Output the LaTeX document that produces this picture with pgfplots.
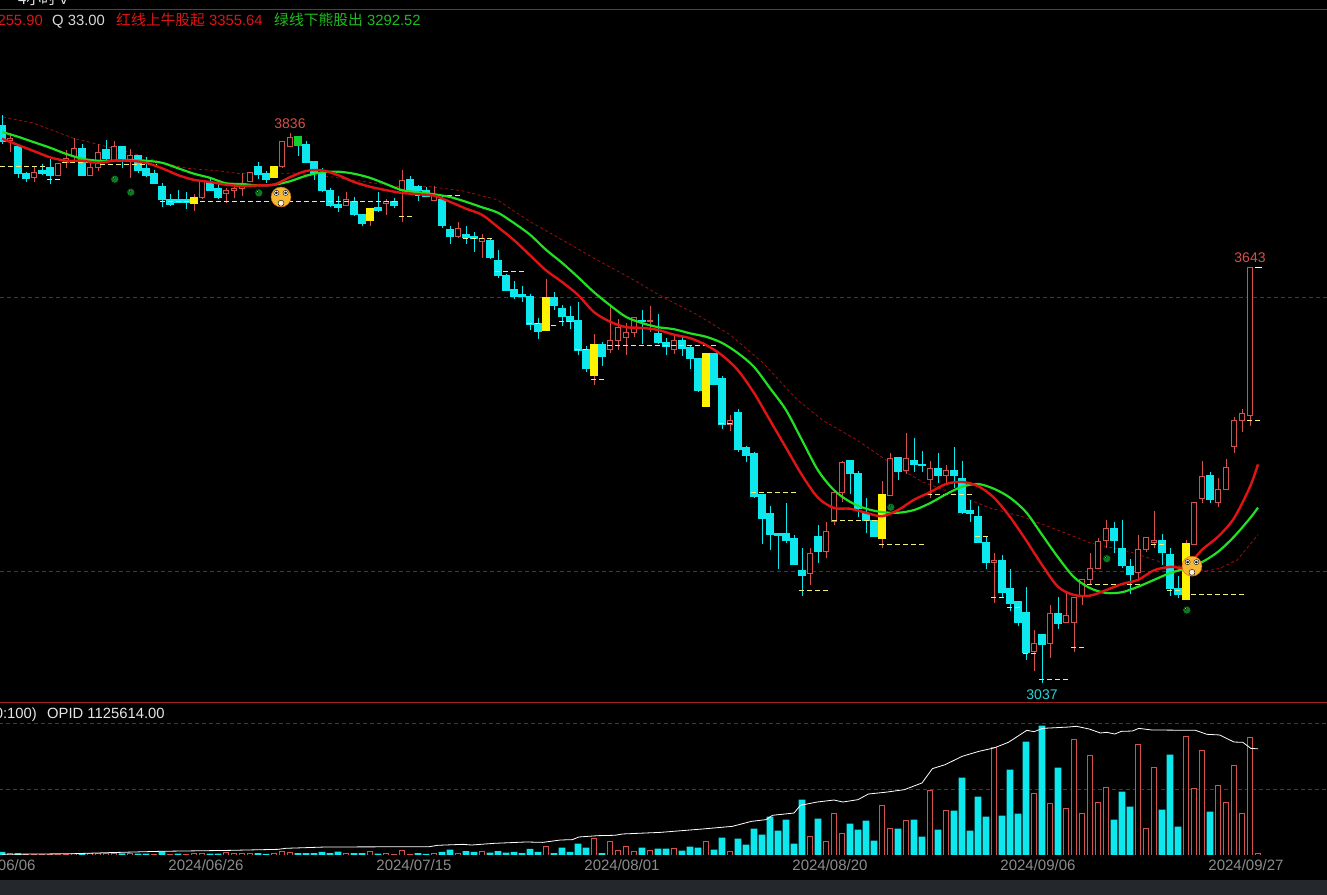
\documentclass[border=0pt]{standalone}
\usepackage{fontspec}
\usepackage{pgfplots}
\usepackage{pgfplotstable}
\pgfplotsset{compat=1.18}
\setmainfont{Liberation Sans}
\newfontfamily\cjk{Noto Sans CJK SC}

\definecolor{upred}{HTML}{D4504C}
\definecolor{downcy}{HTML}{0CE8EE}
\definecolor{dimred}{HTML}{8C1C1C}
\definecolor{framered}{HTML}{A02020}
\definecolor{mared}{HTML}{E01414}
\definecolor{magreen}{HTML}{22E022}
\definecolor{supcol}{HTML}{F2EE7C}
\definecolor{dategray}{HTML}{8C8C8C}
\definecolor{stripgray}{HTML}{24272B}
\definecolor{brightgreen}{HTML}{10D030}
\definecolor{dotgreen}{HTML}{0A7A1E}
\definecolor{facegold}{HTML}{F5B830}

% candles: k, body top, body bottom, low, high (price)
\pgfplotstableread{
k top bot lo hi
0 3851 3827 3824 3866
2 3820 3780 3774 3820
3 3780 3773 3768 3783
5 3784 3781 3778 3794
6 3789 3777 3765 3801
10 3817 3777 3777 3823
13 3815 3802 3801 3829
15 3820 3802 3788 3820
17 3807 3785 3781 3807
18 3788 3777 3776 3805
19 3780 3766 3765 3786
20 3762 3742 3732 3766
21 3743 3735 3733 3750
22 3743 3738 3737 3756
23 3743 3738 3729 3753
26 3767 3756 3755 3773
27 3759 3745 3744 3765
32 3791 3779 3773 3797
33 3781 3771 3767 3784
38 3823 3797 3795 3828
39 3798 3780 3771 3798
40 3781 3755 3753 3789
41 3756 3733 3732 3759
42 3735 3731 3724 3748
44 3740 3720 3718 3746
45 3721 3707 3704 3721
47 3730 3727 3724 3753
49 3740 3734 3730 3744
51 3772 3756 3754 3776
52 3761 3755 3740 3764
53 3755 3747 3746 3761
55 3743 3704 3701 3747
56 3698 3688 3677 3703
58 3692 3687 3677 3704
59 3689 3685 3666 3695
61 3683 3658 3656 3686
62 3653 3631 3628 3669
63 3632 3609 3609 3633
64 3611 3601 3597 3623
65 3603 3601 3592 3616
66 3601 3560 3552 3605
67 3562 3549 3539 3570
69 3600 3587 3581 3607
70 3583 3571 3558 3589
71 3572 3564 3553 3587
72 3566 3522 3515 3592
73 3524 3495 3490 3528
75 3531 3513 3500 3534
80 3566 3564 3531 3581
82 3547 3533 3532 3575
83 3534 3528 3515 3540
85 3537 3525 3514 3545
86 3526 3510 3495 3530
87 3510 3463 3462 3510
89 3518 3473 3471 3519
90 3481 3414 3407 3485
92 3431 3378 3374 3437
93 3381 3369 3359 3382
94 3371 3309 3307 3374
95 3311 3276 3239 3311
96 3284 3254 3230 3295
97 3255 3252 3203 3256
98 3255 3245 3241 3299
99 3247 3210 3210 3252
100 3201 3194 3164 3233
102 3250 3228 3211 3267
106 3361 3342 3312 3361
107 3343 3291 3279 3346
108 3284 3274 3256 3306
109 3274 3251 3251 3274
112 3365 3345 3333 3367
114 3361 3355 3345 3394
115 3356 3354 3345 3375
117 3350 3339 3329 3373
119 3347 3339 3321 3381
120 3335 3286 3283 3361
121 3288 3284 3272 3304
122 3280 3241 3241 3295
123 3242 3212 3203 3250
125 3216 3169 3162 3223
126 3175 3153 3141 3203
127 3155 3125 3119 3155
128 3140 3081 3070 3176
130 3108 3092 3037 3108
132 3138 3124 3115 3162
139 3262 3244 3227 3271
140 3233 3208 3204 3274
141 3206 3195 3167 3218
145 3245 3227 3209 3254
146 3224 3174 3164 3233
147 3175 3165 3161 3193
151 3339 3305 3300 3344
}\cyancandles

\pgfplotstableread{
k top bot lo hi
1 3832 3829 3812 3840
4 3782 3775 3768 3790
7 3795 3777 3777 3795
8 3802 3797 3789 3815
9 3817 3805 3800 3832
11 3789 3778 3777 3800
12 3811 3789 3784 3823
14 3820 3800 3800 3828
16 3807 3800 3774 3816
25 3769 3745 3743 3771
28 3755 3751 3737 3759
29 3759 3755 3745 3767
30 3762 3758 3748 3781
31 3782 3768 3768 3782
35 3827 3790 3789 3827
36 3833 3820 3820 3839
43 3743 3733 3733 3753
48 3740 3737 3720 3743
50 3770 3756 3710 3785
54 3748 3741 3740 3762
57 3700 3688 3687 3709
60 3686 3681 3657 3692
76 3536 3523 3519 3585
77 3556 3536 3522 3568
78 3548 3541 3515 3562
79 3570 3548 3541 3570
81 3566 3564 3549 3587
84 3536 3524 3517 3546
91 3419 3414 3405 3428
101 3226 3196 3180 3233
103 3258 3228 3219 3272
104 3315 3272 3267 3316
105 3359 3314 3301 3361
111 3364 3310 3310 3373
113 3364 3346 3342 3402
116 3350 3334 3306 3361
118 3347 3339 3328 3355
124 3215 3212 3154 3227
129 3094 3082 3054 3114
131 3138 3094 3073 3150
133 3135 3125 3125 3171
134 3162 3125 3082 3162
135 3188 3163 3150 3188
136 3204 3187 3180 3226
137 3243 3204 3204 3248
138 3262 3245 3233 3275
142 3232 3198 3187 3253
143 3249 3232 3228 3249
144 3244 3242 3233 3288
149 3300 3239 3238 3301
150 3338 3306 3300 3361
152 3319 3300 3294 3336
153 3351 3319 3319 3364
154 3420 3382 3373 3425
155 3430 3420 3403 3437
156 3643 3427 3412 3643
}\redcandles

\pgfplotstableread{
k top bot lo hi
24 3746 3737 3726 3750
34 3791 3774 3774 3791
46 3729 3712 3704 3729
68 3600 3551 3551 3627
74 3531 3485 3471 3546
88 3517 3440 3440 3519
110 3312 3248 3233 3331
148 3240 3158 3158 3245
}\yellowcandles

\pgfplotstableread{
k top bot lo hi
37 3834 3821 3806 3834
}\greencandles

% volume (thousand lots)
\pgfplotstableread{
k v
0 32
2 21
10 18
15 18
17 14
18 14
20 39
22 14
26 14
27 14
32 21
33 11
37 21
38 21
39 21
40 32
41 21
42 35
44 21
45 21
47 14
52 21
53 11
55 32
56 57
58 42
59 32
61 25
62 42
63 25
64 32
65 21
66 64
67 32
69 21
70 78
71 32
72 120
73 78
75 21
80 78
82 67
83 67
85 46
86 88
87 78
89 57
90 184
92 173
93 110
94 279
95 216
96 407
97 258
98 375
99 120
100 587
102 385
106 332
107 269
108 364
109 152
112 279
114 375
115 194
117 269
119 470
120 820
121 258
122 619
123 407
125 417
126 905
127 438
128 1202
130 1372
132 926
139 375
140 672
141 513
145 481
146 1064
147 300
151 460
}\cyanvol

\pgfplotstableread{
k v
1 11
3 7
4 7
5 7
6 7
7 7
8 7
9 18
11 14
12 14
13 11
14 21
16 21
19 7
21 4
23 4
24 11
25 11
28 25
29 14
30 21
31 14
34 21
35 32
36 25
43 14
46 32
48 14
49 4
50 53
51 4
54 21
57 14
60 42
68 95
74 170
76 138
77 53
78 85
79 32
81 53
84 64
88 148
91 42
101 191
103 138
104 435
105 223
110 520
111 276
113 361
116 689
118 477
124 1138
129 647
131 551
133 498
134 1220
135 445
136 1050
137 562
138 711
142 1177
143 286
144 923
148 1262
149 700
150 1103
152 742
153 562
154 944
155 445
156 1241
157 21
}\redvol

% one wick and one body per table row: table, half width, wick, box draw, box fill
\newcommand{\candles}[5]{%
  \pgfplotstablegetrowsof{#1}%
  \pgfmathtruncatemacro\lastrow{\pgfplotsretval-1}%
  \pgfplotsforeachungrouped \r in {0,...,\lastrow}{%
    \pgfplotstablegetelem{\r}{k}\of{#1}\let\ck\pgfplotsretval
    \pgfplotstablegetelem{\r}{top}\of{#1}\let\ctop\pgfplotsretval
    \pgfplotstablegetelem{\r}{bot}\of{#1}\let\cbot\pgfplotsretval
    \pgfplotstablegetelem{\r}{lo}\of{#1}\let\clo\pgfplotsretval
    \pgfplotstablegetelem{\r}{hi}\of{#1}\let\chigh\pgfplotsretval
    \pgfmathsetmacro\xl{\ck-#2}%
    \pgfmathsetmacro\xr{\ck+#2}%
    \edef\tmp{\noexpand\addplot[#3, line width=1bp] coordinates {(\ck,\chigh) (\ck,\ctop) (nan,nan) (\ck,\cbot) (\ck,\clo)};
      \noexpand\addplot[draw=#4, fill=#5, line width=1bp] coordinates {(\xl,\cbot) (\xr,\cbot) (\xr,\ctop) (\xl,\ctop)} -- cycle;}%
    \tmp
  }%
}

\tikzset{readout/.style={inner sep=0pt, font=\fontsize{14.8bp}{17bp}\selectfont}}

\begin{document}
\begin{tikzpicture}
\useasboundingbox (0bp,0bp) rectangle (1327bp,895bp);
\fill[black] (0bp,0bp) rectangle (1327bp,895bp);
\fill[stripgray] (0bp,0bp) rectangle (1327bp,15bp);
\draw[framered, line width=1bp] (0bp,885bp) -- (1327bp,885bp);
\draw[framered, line width=1bp] (0bp,192bp) -- (1327bp,192bp);

\begin{axis}[
    at={(0bp,193bp)}, anchor=south west,
    scale only axis, width=1327bp, height=691bp,
    xmin=-0.25, xmax=165.625,
    ymin=3008.74, ymax=4017.6,
    hide axis,
    unbounded coords=jump,
]
% round levels
\addplot[dimred, line width=.8bp, dash pattern=on 4bp off 3bp] coordinates {(-0.25,3600) (165.625,3600)};
\addplot[dimred, line width=.8bp, dash pattern=on 4bp off 3bp] coordinates {(-0.25,3200) (165.625,3200)};
% long average
\addplot[mared!70!black, line width=.8bp, dash pattern=on 3bp off 2.5bp] coordinates {
(0.1,3863) (3.9,3854) (8.9,3832) (16.4,3810) (19.75,3797) (23.1,3788) (27.25,3784) (29.75,3780)
(36.4,3781) (41.4,3775) (49.75,3761) (53.5,3761) (57.6,3755) (61.9,3742) (66,3710) (70.1,3683)
(74.4,3654) (78.5,3628) (82.6,3600) (86.9,3574) (91,3545) (95.1,3504) (99.4,3450) (102.6,3420)
(106.9,3391) (111,3358) (115.1,3330) (119.4,3311) (123.5,3292) (127.6,3279) (132.6,3257) (136,3241)
(141,3228) (145.1,3212) (150.6,3200) (152.25,3204) (154.4,3216) (157,3253)};

\candles{\cyancandles}{.39}{downcy}{downcy}{downcy}
\candles{\redcandles}{.36}{upred}{upred}{black}
\candles{\yellowcandles}{.39}{upred}{yellow}{yellow}
\candles{\greencandles}{.39}{downcy}{brightgreen}{brightgreen}

% yellow support dashes
\addplot[supcol, line width=.9bp, dash pattern=on 5bp off 3bp] coordinates {
(-0.25,3790) (5.6,3790) (nan,nan) (5.6,3772) (7.5,3772) (nan,nan) (7.5,3797) (12.25,3797) (nan,nan)
(12.25,3794) (19.4,3794) (nan,nan) (19.75,3740) (49.4,3740) (nan,nan) (49.6,3718) (51.5,3718) (nan,nan)
(51.6,3749) (57.5,3749) (nan,nan) (57.6,3686) (61.4,3686) (nan,nan) (61.6,3637) (65.5,3637) (nan,nan)
(65.6,3561) (67.5,3561) (nan,nan) (68.6,3559) (69.5,3559) (nan,nan) (69.6,3565) (71.5,3565) (nan,nan)
(71.6,3523) (73.5,3523) (nan,nan) (73.6,3479) (75.5,3479) (nan,nan) (75.6,3529) (89.5,3529) (nan,nan)
(89.6,3416) (91.6,3416) (nan,nan) (93.6,3315) (99.5,3315) (nan,nan) (99.6,3172) (103.5,3172) (nan,nan)
(103.75,3274) (109.5,3274) (nan,nan) (109.6,3239) (115.5,3239) (nan,nan) (115.6,3312) (121.4,3312) (nan,nan)
(121.6,3250) (123.4,3250) (nan,nan) (123.6,3162) (125.5,3162) (nan,nan) (125.6,3147) (127.5,3147) (nan,nan)
(127.6,3079) (129.5,3079) (nan,nan) (129.6,3042) (133.5,3042) (nan,nan) (133.6,3089) (135.5,3089) (nan,nan)
(135.6,3181) (142.5,3181) (nan,nan) (143.6,3239) (145.5,3239) (nan,nan) (145.6,3171) (147.5,3171) (nan,nan)
(148.6,3166) (155.5,3166) (nan,nan) (155.6,3420) (157.5,3420)};
\addplot[white, line width=.9bp] coordinates {(156.6,3643) (157.5,3643)};

% averages
\addplot[magreen, line width=2.2bp, smooth] coordinates {
(0,3841) (2,3834) (4,3826) (6,3818) (8,3809) (10,3802) (12,3799) (14,3799) (16,3800) (18,3799)
(20,3796) (22,3788) (24,3780) (26,3774) (28,3766) (30,3765) (32,3763) (34,3764) (36,3769) (38,3777)
(40,3782) (42,3783) (44,3780) (46,3774) (48,3765) (50,3756) (52,3753) (54,3750) (56,3746) (58,3739)
(60,3731) (62,3723) (64,3708) (66,3691) (68,3669) (70,3650) (72,3629) (74,3607) (76,3588) (78,3571)
(80,3562) (82,3556) (84,3553) (86,3547) (88,3542) (90,3533) (92,3518) (94,3498) (96,3467) (98,3435)
(100,3391) (102,3347) (104,3318) (106,3301) (108,3291) (110,3286) (112,3285) (114,3289) (116,3299) (118,3312)
(120,3323) (122,3327) (124,3320) (126,3307) (128,3286) (130,3253) (132,3220) (134,3191) (136,3175) (138,3168)
(140,3169) (142,3177) (144,3187) (146,3197) (148,3204) (150,3213) (152,3228) (154,3250) (156,3277) (157,3292.52)};
\addplot[mared, line width=2.4bp, smooth] coordinates {
(0,3831) (2,3822) (4,3813) (6,3804) (8,3799) (10,3799) (12,3796) (14,3799) (16,3799) (18,3796)
(20,3788) (22,3778) (24,3771) (26,3768) (28,3764) (30,3762) (32,3763) (34,3764) (36,3775) (38,3784)
(40,3785) (42,3778) (44,3768) (46,3761) (48,3756) (50,3752) (52,3750) (54,3748) (56,3739) (58,3729)
(60,3720) (62,3702) (64,3683) (66,3661) (68,3639) (70,3622) (72,3603) (74,3578) (76,3564) (78,3556)
(80,3555) (82,3552) (84,3545) (86,3540) (88,3530) (90,3515) (92,3493) (94,3460) (96,3420) (98,3380)
(100,3340) (102,3307) (104,3292) (106,3291) (108,3285) (110,3280) (112,3289) (114,3304) (116,3315) (118,3327)
(120,3330) (122,3324) (124,3307) (126,3279) (128,3245) (130,3209) (132,3177) (134,3165) (136,3164) (138,3172)
(140,3181) (142,3187) (144,3201) (146,3206) (148,3206) (150,3231) (152,3250) (154,3277) (156,3323) (157,3355.64)};

% signal dots
\addplot[only marks, mark=*, mark size=4bp, mark options={draw=none, fill=dotgreen}] coordinates {
(14.1,3772) (16.1,3753) (32.1,3752) (111.1,3293) (138.1,3218) (148.1,3143)};
\addplot[only marks, mark=*, mark size=1.1bp, mark options={draw=none, fill=green!25!white}] coordinates {
(13.95,3774) (15.95,3755) (31.95,3754) (110.95,3295) (137.95,3220) (147.95,3145)};
% faces
\addplot[only marks, mark=*, mark size=10bp, mark options={draw=orange!80!black, fill=facegold}] coordinates {(34.875,3746) (148.75,3207)};
\addplot[only marks, mark=*, mark size=2.6bp, mark options={draw=none, fill=white}] coordinates {
(34.3,3752) (35.45,3752) (148.2,3213) (149.3,3213)};
\addplot[only marks, mark=*, mark size=1.1bp, mark options={draw=none, fill=black!80}] coordinates {
(34.3,3752) (35.45,3752) (148.2,3213) (149.3,3213)};
\addplot[only marks, mark=*, mark size=3bp, mark options={draw=none, fill=white!85!orange}] coordinates {(34.875,3737) (148.75,3198)};

\node[text=upred, font=\fontsize{14bp}{16bp}\selectfont] at (axis cs:36,3853) {3836};
\node[text=upred, font=\fontsize{14bp}{16bp}\selectfont] at (axis cs:156,3658) {3643};
\node[text=downcy!80!gray, font=\fontsize{14bp}{16bp}\selectfont] at (axis cs:130,3020) {3037};
\end{axis}

\begin{axis}[
    at={(-8bp,40bp)}, anchor=south west,
    scale only axis, width=1335bp, height=152bp,
    xmin=-1.25, xmax=165.625,
    ymin=0, ymax=1612,
    axis line style={draw=none},
    major tick length=0pt,
    ytick=\empty,
    xtick={-0.5,25.5,51.5,77.5,103.5,129.5,155.5},
    xticklabels={2024/06/06,2024/06/26,2024/07/15,2024/08/01,2024/08/20,2024/09/06,2024/09/27},
    xticklabel style={text=dategray, font=\fontsize{15bp}{17bp}\selectfont, yshift=-1bp},
]
\addplot[dimred, line width=.8bp, dash pattern=on 4bp off 3bp] coordinates {(-1.25,1400) (165.625,1400)};
\addplot[dimred, line width=.8bp, dash pattern=on 4bp off 3bp] coordinates {(-1.25,700) (165.625,700)};
\addplot[ybar, bar width=6.6bp, bar shift=0pt, draw=none, fill=downcy] table[x=k, y=v] {\cyanvol};
\addplot[ybar, bar width=5.8bp, bar shift=0pt, draw=upred, line width=1bp, fill=black] table[x=k, y=v] {\redvol};
\addplot[white, line width=.8bp] coordinates {
(0,7) (9,14) (13.4,25) (19.75,39) (28.4,49) (34.5,60) (35.5,71) (40.5,85) (53.4,88) (54.5,103)
(57.6,113) (58.7,106) (61.6,124) (65.5,138) (67.6,134) (69.8,159) (71.3,163) (72.1,191) (74.5,205)
(76.6,209) (77.6,223) (82.3,240) (87.6,276) (91.3,304) (93.7,357) (95.5,375) (96.3,421) (99,445)
(99.8,527) (101.9,562) (104,583) (105.1,562) (107,587) (108.3,647) (110.4,665) (112.8,693) (115,764)
(116.3,916) (117.9,958) (120,1046) (122.1,1099) (124,1135) (125.8,1195) (128.1,1322) (129,1308)
(130.1,1343) (133.3,1357) (134.3,1365) (135.9,1336) (137.3,1294) (138.1,1301) (139.1,1283) (139.9,1311)
(141.3,1315) (142.1,1343) (143.7,1326) (149.2,1322) (150.6,1280) (152.2,1273) (154,1198) (155.1,1195)
(156.1,1131) (157,1125.6)};
\addplot[framered, line width=1bp] coordinates {(-1.25,0) (165.625,0)};
\end{axis}

% readouts
\node[readout, anchor=base east, text=mared] at (43bp,869bp) {3255.90};
\node[readout, anchor=base west, text=white!85!black] at (52bp,869bp) {Q 33.00};
\node[readout, anchor=base west, text=mared] at (116bp,869bp) {{\cjk 红线上牛股起} 3355.64};
\node[readout, anchor=base west, text=magreen!85!black] at (274bp,869bp) {{\cjk 绿线下熊股出} 3292.52};
\node[readout, anchor=base east, text=white!90!black] at (37bp,176bp) {(0:100)};
\node[readout, anchor=base west, text=white!90!black] at (47bp,176bp) {OPID 1125614.00};
\node[readout, anchor=base west, text=white!90!black] at (18bp,890bp) {{\cjk 4小时} v};
\end{tikzpicture}
\end{document}
